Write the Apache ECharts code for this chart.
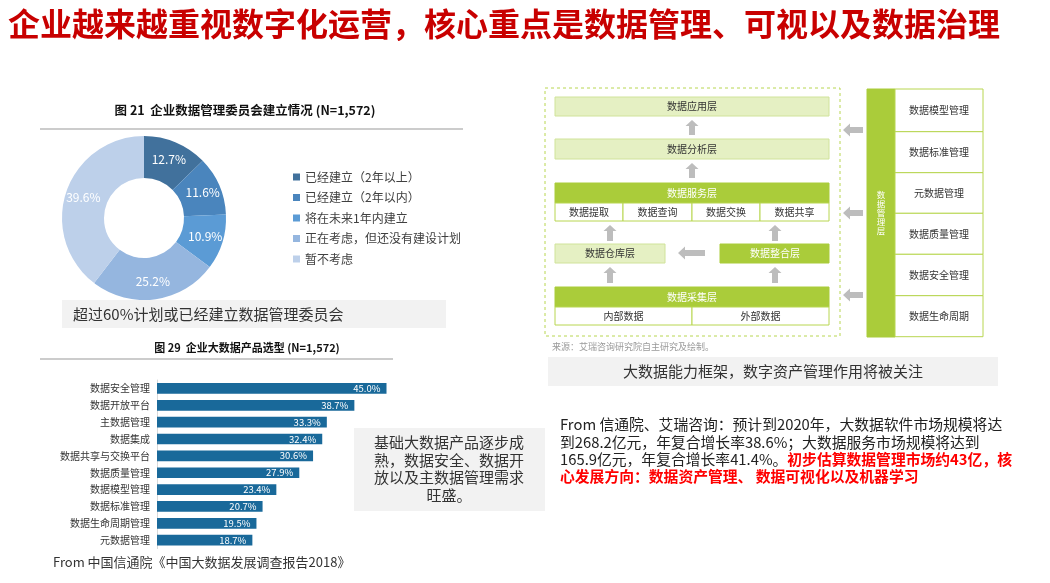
<!DOCTYPE html>
<html><head><meta charset="utf-8">
<script src="https://cdn.jsdelivr.net/npm/echarts@6/dist/echarts.min.js"></script>
<style>html,body{margin:0;padding:0;background:#fff}#c{width:1050px;height:583px}</style>
</head><body><div id="c"></div>
<script>
// ---- data ----
const pieNames = ['已经建立（2年以上）','已经建立（2年以内）','将在未来1年内建立','正在考虑，但还没有建设计划','暂不考虑'];
const pieValues = [12.7, 11.6, 10.9, 25.2, 39.6];
const pieColors = ['#41719C','#4A85BD','#5B9BD5','#95B6DF','#BDD0EA'];
const barCats = ['数据安全管理','数据开放平台','主数据管理','数据集成','数据共享与交换平台','数据质量管理','数据模型管理','数据标准管理','数据生命周期管理','元数据管理'];
const barValues = [45.0, 38.7, 33.3, 32.4, 30.6, 27.9, 23.4, 20.7, 19.5, 18.7];
const serviceItems = ['数据提取','数据查询','数据交换','数据共享'];
const collectItems = ['内部数据','外部数据'];
const mgmtItems = ['数据模型管理','数据标准管理','元数据管理','数据质量管理','数据安全管理','数据生命周期'];

const FF = '"Noto Sans CJK SC","Noto Sans",sans-serif';
const GREEN = '#AACC3A', LGREEN = '#E5F0C3', LSTROKE = '#D0E39A', BSTROKE = '#B8D650', ARROW = '#BDBDBD';

function rect(x,y,w,h,fill,stroke,extra){
  return Object.assign({type:'rect',shape:{x:x,y:y,width:w,height:h},style:{fill:fill,stroke:stroke||null,lineWidth:1}},extra||{});
}
function txt(x,y,text,size,color,align,weight,extra){
  return {type:'text',x:x,y:y,style:Object.assign({text:text,fontSize:size,fill:color,align:align||'center',verticalAlign:'middle',fontFamily:FF,fontWeight:weight||'normal'},extra||{})};
}
function upArrow(cx,y1,y2){
  return {type:'polygon',shape:{points:[[cx,y1],[cx+6.5,y1+6],[cx+3,y1+6],[cx+3,y2],[cx-3,y2],[cx-3,y1+6],[cx-6.5,y1+6]]},style:{fill:ARROW}};
}
function leftArrow(x1,x2,cy){
  return {type:'polygon',shape:{points:[[x1,cy],[x1+7,cy-6.5],[x1+7,cy-3],[x2,cy-3],[x2,cy+3],[x1+7,cy+3],[x1+7,cy+6.5]]},style:{fill:ARROW}};
}

const g = [];
// title
g.push(txt(8,24,'企业越来越重视数字化运营，核心重点是数据管理、可视以及数据治理',32,'#C80000','left','bold'));
// pie section
g.push(txt(245,110,'图 21  企业数据管理委员会建立情况 (N=1,572)',12.5,'#111','center','bold'));
g.push({type:'line',shape:{x1:40,y1:129,x2:463,y2:129},style:{stroke:'#999',lineWidth:1}});
g.push(rect(62,300,384,28,'#F2F2F2'));
g.push(txt(73,314,'超过60%计划或已经建立数据管理委员会',15,'#333','left'));
// bar section
g.push(txt(247,348,'图 29  企业大数据产品选型 (N=1,572)',11,'#111','center','bold'));
g.push({type:'line',shape:{x1:40,y1:359,x2:393,y2:359},style:{stroke:'#999',lineWidth:1}});
g.push(rect(354,428,191,83,'#F2F2F2'));
g.push(txt(449,469,'基础大数据产品逐步成\n熟，数据安全、数据开\n放以及主数据管理需求\n旺盛。',15,'#333','center','normal',{lineHeight:17.5}));
g.push(txt(53,562,'From 中国信通院《中国大数据发展调查报告2018》',13,'#333','left'));

// architecture diagram
g.push(rect(545,88,295,248,null,BSTROKE,{style:{fill:null,stroke:BSTROKE,lineWidth:1,lineDash:[3,3]}}));
g.push(rect(555,97,274,19,LGREEN,LSTROKE));
g.push(txt(692,106.5,'数据应用层',10,'#333'));
g.push(upArrow(692,120,135));
g.push(rect(555,139,274,20,LGREEN,LSTROKE));
g.push(txt(692,149,'数据分析层',10,'#333'));
g.push(upArrow(692,163,178));
g.push(rect(555,183,274,20,GREEN,GREEN));
g.push(txt(692,193,'数据服务层',10,'#fff'));
const sx = [555,623,692,760,829];
serviceItems.forEach((s,i)=>{
  g.push(rect(sx[i],203,sx[i+1]-sx[i],18,'#fff',BSTROKE));
  g.push(txt((sx[i]+sx[i+1])/2,212,s,10,'#333'));
});
g.push(upArrow(610,225,241));
g.push(upArrow(775,225,241));
g.push(rect(555,244,110,19,LGREEN,LSTROKE));
g.push(txt(610,253.5,'数据仓库层',10,'#333'));
g.push(leftArrow(678,705,253));
g.push(rect(720,244,109,19,GREEN,GREEN));
g.push(txt(775,253.5,'数据整合层',10,'#fff'));
g.push(upArrow(610,267,283));
g.push(upArrow(775,267,283));
g.push(rect(555,287,274,20,GREEN,GREEN));
g.push(txt(692,297,'数据采集层',10,'#fff'));
const cx = [555,692,829];
collectItems.forEach((s,i)=>{
  g.push(rect(cx[i],307,cx[i+1]-cx[i],18,'#fff',BSTROKE));
  g.push(txt((cx[i]+cx[i+1])/2,316,s,10,'#333'));
});
g.push(leftArrow(843,863,130));
g.push(leftArrow(843,863,213));
g.push(leftArrow(843,863,295));
// management panel
g.push(rect(867,89,28,248,GREEN,GREEN));
g.push(txt(881,213,'数\n据\n管\n理\n层',8.5,'#fff','center','normal',{lineHeight:9}));
const my = [89,131.7,172.7,213.3,254.3,295.7,336.7];
mgmtItems.forEach((s,i)=>{
  g.push(rect(895,my[i],88,my[i+1]-my[i],'#fff',BSTROKE));
  g.push(txt(939,(my[i]+my[i+1])/2,s,10,'#333'));
});
g.push(txt(552,347,'来源：艾瑞咨询研究院自主研究及绘制。',9,'#9a9a9a','left'));
g.push(rect(548,357,450,29,'#F2F2F2'));
g.push(txt(773,371.5,'大数据能力框架，数字资产管理作用将被关注',15,'#333'));
// paragraph
g.push({type:'text',x:560,y:416,style:{
  text:'{n|From 信通院、艾瑞咨询：预计到2020年，大数据软件市场规模将达}\n{n|到268.2亿元，年复合增长率38.6%；大数据服务市场规模将达到}\n{n|165.9亿元，年复合增长率41.4%。}{r|初步估算数据管理市场约43亿，核}\n{r|心发展方向：数据资产管理、 数据可视化以及机器学习}',
  fontFamily:FF, fontSize:14.8, lineHeight:17.3, align:'left', verticalAlign:'top',
  rich:{n:{fontSize:14.8,fill:'#222',fontFamily:FF,lineHeight:17.3},r:{fontSize:14.8,fill:'#FF0000',fontWeight:'bold',fontFamily:FF,lineHeight:17.3}}
}});

const chart = echarts.init(document.getElementById('c'),null,{renderer:'canvas'});
chart.setOption({
  animation:false,
  textStyle:{fontFamily:FF},
  legend:{
    orient:'vertical', left:288, top:166, itemWidth:7, itemHeight:7, itemGap:8.5, icon:'rect',
    textStyle:{fontSize:12,color:'#404040',fontFamily:FF}, data:pieNames
  },
  grid:{left:157, top:380, width:255, height:168.6},
  xAxis:{type:'value', min:0, max:50, show:false},
  yAxis:{type:'category', data:barCats, inverse:true,
    axisLine:{show:true,lineStyle:{color:'#D9D9D9'}}, axisTick:{show:false},
    axisLabel:{fontSize:10,color:'#333',margin:7,fontFamily:FF}},
  series:[
    {type:'pie', center:[144,218], radius:[40,82], startAngle:90, clockwise:true,
      color:pieColors, avoidLabelOverlap:false,
      label:{show:true, position:'inside', formatter:p=>p.value.toFixed(1)+'%', color:'#fff', fontSize:12, fontFamily:FF},
      labelLine:{show:false}, emphasis:{disabled:true},
      data:pieNames.map((n,i)=>({name:n,value:pieValues[i]}))},
    {type:'bar', data:barValues, barWidth:10.7, itemStyle:{color:'#19699A'},
      label:{show:true, position:'insideRight', distance:6, color:'#fff', fontSize:9.5,
        formatter:p=>p.value.toFixed(1)+'%'}}
  ],
  graphic:g
});
</script></body></html>
